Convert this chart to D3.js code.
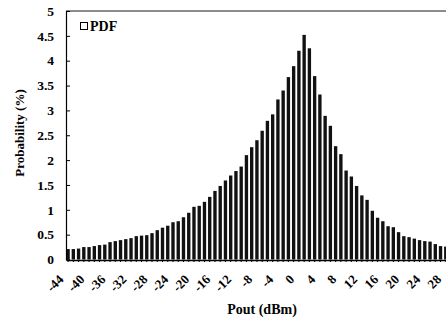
<!DOCTYPE html>
<html><head><meta charset="utf-8">
<script src="https://cdn.jsdelivr.net/npm/d3@7"></script>
<style>body{margin:0;background:#fff}svg{display:block}</style>
</head><body><svg id="c" width="446" height="321"></svg>
<script>
const categories = [-44,-43,-42,-41,-40,-39,-38,-37,-36,-35,-34,-33,-32,-31,-30,-29,-28,-27,-26,-25,-24,-23,-22,-21,-20,-19,-18,-17,-16,-15,-14,-13,-12,-11,-10,-9,-8,-7,-6,-5,-4,-3,-2,-1,0,1,2,3,4,5,6,7,8,9,10,11,12,13,14,15,16,17,18,19,20,21,22,23,24,25,26,27,28];
const pdfValues = [0.21,0.21,0.22,0.25,0.25,0.27,0.29,0.30,0.35,0.37,0.39,0.41,0.43,0.47,0.48,0.49,0.53,0.59,0.64,0.68,0.75,0.77,0.85,0.94,1.06,1.08,1.16,1.26,1.38,1.48,1.59,1.69,1.78,1.87,2.10,2.26,2.40,2.59,2.79,2.92,3.22,3.40,3.67,3.89,4.20,4.52,4.25,3.69,3.32,2.89,2.69,2.28,2.12,1.79,1.67,1.48,1.29,1.20,0.98,0.84,0.77,0.67,0.65,0.55,0.47,0.45,0.42,0.39,0.37,0.36,0.31,0.27,0.26];
const xTickLabels = [-44,-40,-36,-32,-28,-24,-20,-16,-12,-8,-4,0,4,8,12,16,20,24,28];
const yTickValues = [0,0.5,1,1.5,2,2.5,3,3.5,4,4.5,5];

const svg = d3.select("#c");
const font = "'Liberation Serif','Times New Roman',serif";
const step = 5.22;
const x = d3.scaleBand().domain(categories).range([66.4, 66.4 + step*categories.length]).paddingInner(0.36).paddingOuter(0);
const y = d3.scaleLinear().domain([0,5]).range([259.5, 11]);

// bars
svg.append("g").selectAll("rect").data(categories).join("rect")
  .attr("x", d => x(d))
  .attr("width", x.bandwidth())
  .attr("y", (d,i) => y(pdfValues[i]))
  .attr("height", (d,i) => y(0) - y(pdfValues[i]))
  .attr("fill", "#111");

// top border
svg.append("line").attr("x1",66).attr("x2",446).attr("y1",y(5)).attr("y2",y(5))
  .attr("stroke","#666").attr("stroke-width",1.6);

// y axis
const yAxis = svg.append("g").attr("transform","translate(66,0)")
  .call(d3.axisRight(y).tickValues(yTickValues).tickSize(4).tickFormat(""));
yAxis.select(".domain").attr("stroke","#000").attr("stroke-width",1.2);
yAxis.selectAll(".tick line").attr("stroke","#000");
svg.append("g").selectAll("text").data(yTickValues).join("text")
  .attr("x", 54).attr("y", d => y(d)).attr("dy","0.35em")
  .attr("text-anchor","end").attr("font-family",font).attr("font-weight","bold")
  .attr("font-size",13.5).text(d => d);

// x axis
const xAxis = svg.append("g").attr("transform",`translate(0,${y(0)+0.5})`)
  .call(d3.axisBottom(x).tickSize(2).tickFormat("").tickSizeOuter(0));
xAxis.select(".domain").attr("stroke","#000").attr("stroke-width",1.5);
xAxis.selectAll(".tick line").attr("stroke","#000");
svg.append("g").selectAll("text").data(xTickLabels).join("text")
  .attr("transform", d => `translate(${x(d)+x.bandwidth()/2-7},277) rotate(-45)`)
  .attr("text-anchor","end").attr("dy","0.35em")
  .attr("font-family",font).attr("font-weight","bold").attr("font-size",13)
  .text(d => d);

// titles
svg.append("text").attr("x",262).attr("y",314).attr("text-anchor","middle")
  .attr("font-family",font).attr("font-weight","bold").attr("font-size",14).text("Pout (dBm)");
svg.append("text").attr("transform","translate(24,133) rotate(-90)").attr("text-anchor","middle")
  .attr("font-family",font).attr("font-weight","bold").attr("font-size",13).text("Probability (%)");

// legend
svg.append("rect").attr("x",80.5).attr("y",22.5).attr("width",7).attr("height",7)
  .attr("fill","#fff").attr("stroke","#000").attr("stroke-width",1);
svg.append("text").attr("x",90).attr("y",30.5).attr("font-family",font).attr("font-weight","bold")
  .attr("font-size",14).text("PDF");
</script></body></html>
